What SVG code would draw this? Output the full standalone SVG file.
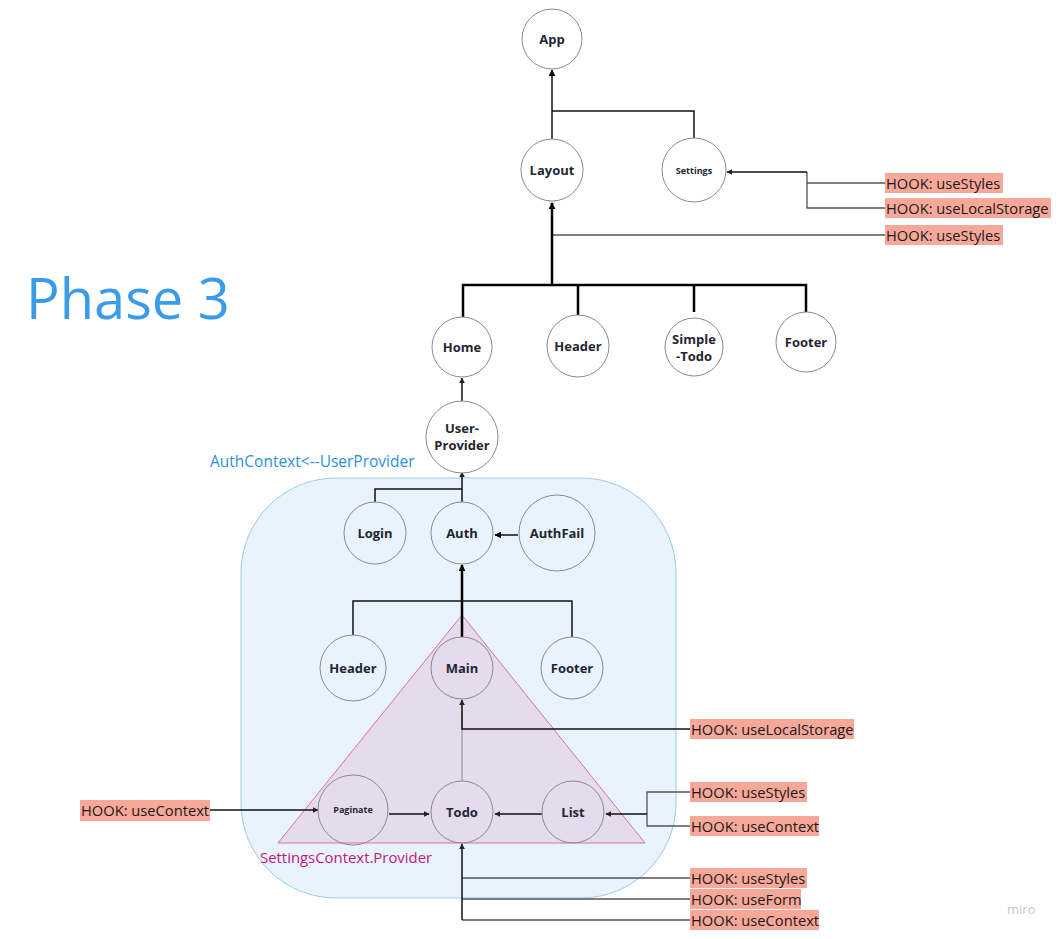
<svg xmlns="http://www.w3.org/2000/svg" width="1064" height="939" viewBox="0 0 1064 939">
<style>
.node circle{fill:#ffffff;stroke:#8a8a8a;stroke-width:1}
.in circle{fill:none}
.lbl{font-family:"Open Sans","Liberation Sans",sans-serif;font-weight:bold;font-size:13px;fill:#1f2633;text-anchor:middle}
.sm{font-size:9px}
.hook rect{fill:#f8a898}
.hook text{font-family:"Open Sans","Liberation Sans",sans-serif;font-size:14.7px;fill:#1a1a1a}
.c{fill:none;stroke:#111;stroke-width:1.5}
.t{fill:none;stroke:#000;stroke-width:2.5}
.g{fill:none;stroke:#555;stroke-width:1.3}
.gl{fill:none;stroke:#8a8a8a;stroke-width:1}
</style>
<defs>
<marker id="ah" viewBox="0 0 10 10" refX="9" refY="5" markerWidth="7" markerHeight="7" markerUnits="userSpaceOnUse" orient="auto"><path d="M0,0 L10,5 L0,10 z" fill="#000"/></marker>
<marker id="ahs" viewBox="0 0 10 10" refX="9" refY="5" markerWidth="6" markerHeight="6" markerUnits="userSpaceOnUse" orient="auto"><path d="M0,0 L10,5 L0,10 z" fill="#222"/></marker>
</defs>
<rect width="1064" height="939" fill="#ffffff"/>

<g id="phase-title"><text x="26" y="319" font-family="'Open Sans','Liberation Sans',sans-serif" font-size="56" fill="#3a9be8">Phase 3</text></g>

<g id="auth-region">
<rect x="241" y="478" width="435" height="420" rx="95" ry="95" fill="#e8f3fd" stroke="#9ccbe8" stroke-width="1"/>
<text x="210" y="467" font-family="'Open Sans','Liberation Sans',sans-serif" font-size="15.5" fill="#2d8fe0">AuthContext&lt;--UserProvider</text>
</g>

<g id="settings-region">
<polygon points="462,615 278,843 645,843" fill="#e6daed" stroke="#d9739f" stroke-width="1"/>
<text x="260" y="863" font-family="'Open Sans','Liberation Sans',sans-serif" font-size="14.9" fill="#c2187d">SettingsContext.Provider</text>
</g>

<g id="connectors">
<path class="c" d="M552,139 V70" marker-end="url(#ah)"/>
<path class="c" d="M694,138 V111 H552"/>
<path class="g" d="M885,183 H807 M885,208 H807 V172"/>
<path class="c" d="M807,172 H727" marker-end="url(#ahs)"/>
<path class="g" d="M885,235 H552"/>
<path class="t" d="M552,285 V203" marker-end="url(#ah)"/>
<path class="t" d="M463,317 V285 H806 V312 M578,285 V315 M694,285 V312"/>
<path class="c" d="M462,402 V378" marker-end="url(#ahs)"/>
<path class="c" d="M375,502 V489 H462"/>
<path class="c" d="M462,502 V472" marker-end="url(#ahs)"/>
<path class="c" d="M518,535 H495" marker-end="url(#ah)"/>
<path class="t" d="M462,637 V565" marker-end="url(#ah)"/>
<path class="c" d="M353,635 V601 H572 V637"/>
<path class="gl" d="M462,781 V712"/>
<path class="c" d="M690,729 H462 V700" marker-end="url(#ahs)"/>
<path class="c" d="M389,814 H429" marker-end="url(#ahs)"/>
<path class="c" d="M542,814 H495" marker-end="url(#ahs)"/>
<path class="c" d="M210,810 H318" marker-end="url(#ahs)"/>
<path class="g" d="M690,792 H647 V826 H690"/>
<path class="c" d="M647,814 H606" marker-end="url(#ahs)"/>
<path class="g" d="M690,878 H462 M690,899 H462 M690,920 H462"/>
<path class="c" d="M462,920 V844" marker-end="url(#ahs)"/>
</g>

<g id="node-app" class="node"><circle cx="552" cy="39" r="30"/><text class="lbl" x="552" y="44">App</text></g>
<g id="node-layout" class="node"><circle cx="552" cy="170" r="31"/><text class="lbl" x="552" y="175">Layout</text></g>
<g id="node-settings" class="node"><circle cx="694" cy="170" r="32"/><text class="lbl sm" x="694" y="174">Settings</text></g>
<g id="node-home" class="node"><circle cx="462" cy="347" r="30"/><text class="lbl" x="462" y="352">Home</text></g>
<g id="node-header" class="node"><circle cx="578" cy="346" r="31"/><text class="lbl" x="578" y="351">Header</text></g>
<g id="node-simple-todo" class="node"><circle cx="694" cy="347" r="29"/><text class="lbl" x="694" y="344">Simple</text><text class="lbl" x="694" y="361">-Todo</text></g>
<g id="node-footer" class="node"><circle cx="806" cy="342" r="30"/><text class="lbl" x="806" y="347">Footer</text></g>
<g id="node-userprovider" class="node"><circle cx="462" cy="437" r="36"/><text class="lbl" x="462" y="433">User-</text><text class="lbl" x="462" y="450">Provider</text></g>
<g id="node-login" class="node in"><circle cx="375" cy="533" r="31"/><text class="lbl" x="375" y="538">Login</text></g>
<g id="node-auth" class="node in"><circle cx="462" cy="533" r="31"/><text class="lbl" x="462" y="538">Auth</text></g>
<g id="node-authfail" class="node in"><circle cx="557" cy="533" r="38"/><text class="lbl" x="557" y="538">AuthFail</text></g>
<g id="node-header2" class="node in"><circle cx="353" cy="668" r="33"/><text class="lbl" x="353" y="673">Header</text></g>
<g id="node-main" class="node in"><circle cx="462" cy="668" r="31"/><text class="lbl" x="462" y="673">Main</text></g>
<g id="node-footer2" class="node in"><circle cx="572" cy="668" r="31"/><text class="lbl" x="572" y="673">Footer</text></g>
<g id="node-paginate" class="node in"><circle cx="353" cy="810" r="35"/><text class="lbl sm" x="353" y="813">Paginate</text></g>
<g id="node-todo" class="node in"><circle cx="462" cy="812" r="31"/><text class="lbl" x="462" y="817">Todo</text></g>
<g id="node-list" class="node in"><circle cx="573" cy="812" r="31"/><text class="lbl" x="573" y="817">List</text></g>

<g id="hook-settings-usestyles" class="hook"><rect x="885" y="173" width="118" height="20"/><text x="886" y="189">HOOK: useStyles</text></g>
<g id="hook-settings-uselocalstorage" class="hook"><rect x="885" y="198" width="166" height="20"/><text x="886" y="214">HOOK: useLocalStorage</text></g>
<g id="hook-layout-usestyles" class="hook"><rect x="885" y="225" width="118" height="20"/><text x="886" y="241">HOOK: useStyles</text></g>
<g id="hook-main-uselocalstorage" class="hook"><rect x="690" y="719" width="164" height="20"/><text x="691" y="735">HOOK: useLocalStorage</text></g>
<g id="hook-paginate-usecontext" class="hook"><rect x="80" y="800" width="130" height="21"/><text x="81" y="816">HOOK: useContext</text></g>
<g id="hook-list-usestyles" class="hook"><rect x="690" y="782" width="117" height="20"/><text x="691" y="798">HOOK: useStyles</text></g>
<g id="hook-list-usecontext" class="hook"><rect x="690" y="816" width="129" height="20"/><text x="691" y="832">HOOK: useContext</text></g>
<g id="hook-todo-usestyles" class="hook"><rect x="690" y="868" width="117" height="20"/><text x="691" y="884">HOOK: useStyles</text></g>
<g id="hook-todo-useform" class="hook"><rect x="690" y="889" width="111" height="20"/><text x="691" y="905">HOOK: useForm</text></g>
<g id="hook-todo-usecontext" class="hook"><rect x="690" y="910" width="129" height="20"/><text x="691" y="926">HOOK: useContext</text></g>

<g id="watermark"><text x="1007" y="914" font-family="'Open Sans','Liberation Sans',sans-serif" font-size="13" fill="#c8c8cc">miro</text></g>
</svg>
